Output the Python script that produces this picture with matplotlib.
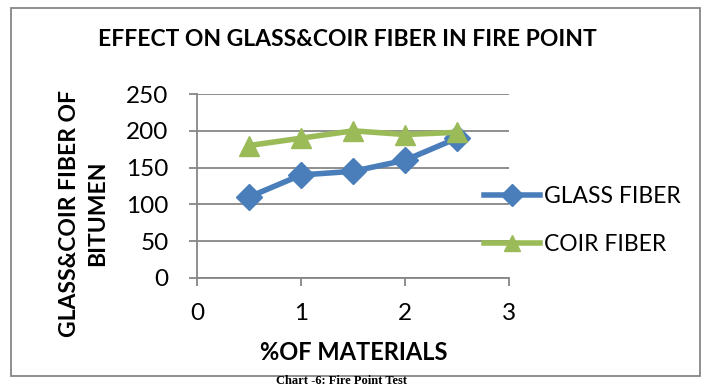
import matplotlib.pyplot as plt
from matplotlib.patches import Rectangle

plt.rcParams['font.family'] = ['Lato', 'DejaVu Sans']

percent = [0.5, 1.0, 1.5, 2.0, 2.5]
glass_fiber = [110, 140, 145, 160, 190]
coir_fiber = [180, 190, 200, 195, 198]
x_ticks = [0, 1, 2, 3]
y_ticks = [0, 50, 100, 150, 200, 250]

blue = '#4a7ebb'
green = '#9bbb59'
grey = '#868686'

fig = plt.figure(figsize=(7.11, 3.87), dpi=100)
# outer chart border
fig.patches.append(Rectangle((0.016, 0.029), 0.969, 0.950, transform=fig.transFigure,
                             fill=False, edgecolor=grey, linewidth=1.3))

ax = fig.add_axes([0.277, 0.2817, 0.439, 0.4753])
ax.plot(percent, glass_fiber, color=blue, lw=4, marker='D', markersize=13, label='GLASS FIBER')
ax.plot(percent, coir_fiber, color=green, lw=4, marker='^', markersize=14, label='COIR FIBER')

ax.set_xlim(0, 3)
ax.set_ylim(0, 250)
ax.set_xticks(x_ticks)
ax.set_yticks(y_ticks)
ax.grid(axis='y', color=grey, lw=1.3)
ax.set_axisbelow(True)
for s in ['top', 'right']:
    ax.spines[s].set_visible(False)
for s in ['left', 'bottom']:
    ax.spines[s].set_color(grey)
    ax.spines[s].set_linewidth(1.3)
ax.tick_params(axis='both', colors=grey, labelcolor='black', labelsize=17.5, length=5.5,
               width=1.3)
ax.tick_params(axis='y', pad=15)
ax.tick_params(axis='x', pad=12.5)

fig.text(0.488, 0.897, 'EFFECT ON GLASS&COIR FIBER IN FIRE POINT', ha='center', va='center',
         fontsize=16.5, fontweight='bold')
fig.text(0.497, 0.09, '%OF MATERIALS', ha='center', va='center', fontsize=17, fontweight='bold')
fig.text(0.1175, 0.448, 'GLASS&COIR FIBER OF\nBITUMEN', ha='center', va='center', rotation=90,
         fontsize=16.5, fontweight='bold', linespacing=1.45)

leg = ax.legend(loc='center left', bbox_to_anchor=(0.92, 0.3125), frameon=False, fontsize=16.5,
                handlelength=2.45, labelspacing=1.14, handletextpad=0.17, borderpad=0,
                borderaxespad=0)
for h in leg.legend_handles:
    h.set_markersize(11)

fig.text(0.48, 0.001, 'Chart -6: Fire Point Test', ha='center', va='bottom', fontsize=9,
         fontweight='bold', family=['Liberation Serif', 'DejaVu Serif'])

fig.savefig('out.png', dpi=100)
